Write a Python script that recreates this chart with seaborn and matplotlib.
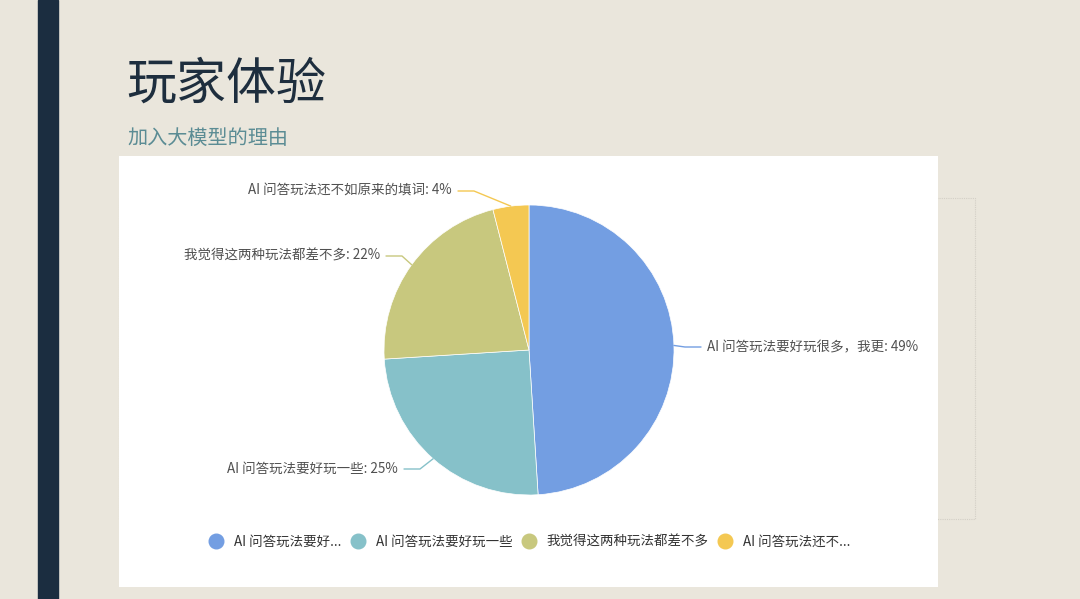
import numpy as np
import seaborn as sns
import matplotlib.pyplot as plt
from matplotlib.patches import Rectangle
from matplotlib.lines import Line2D

# Data
categories = ["AI 问答玩法要好玩很多，我更", "AI 问答玩法要好玩一些",
              "我觉得这两种玩法都差不多", "AI 问答玩法还不如原来的填词"]
shares = [49, 25, 22, 4]
legend_labels = ["AI 问答玩法要好...", "AI 问答玩法要好玩一些",
                 "我觉得这两种玩法都差不多", "AI 问答玩法还不..."]
slice_colors = ["#739EE2", "#86C1C9", "#C8C87E", "#F4C852"]

# Layout (pixel units, y down)
W, H = 1080, 599
pie_center = (529, 350)
pie_radius = 145
label_pos = [(707, 347, "left"), (398, 469, "right"),
             (380, 256, "right"), (452, 191, "right")]

sns.set_theme(style="white")
plt.rcParams["font.family"] = ["Noto Sans CJK SC", "DejaVu Sans"]
palette = sns.color_palette(slice_colors)

fig = plt.figure(figsize=(W / 100, H / 100), dpi=100)
fig.patch.set_facecolor("#EAE6DC")
ax = fig.add_axes([0, 0, 1, 1])
ax.set_facecolor("none")

# Slide decorations
ax.add_patch(Rectangle((38, 0), 20, H, color="#1B2D40", zorder=1))
ax.add_patch(Rectangle((119, 198), 856, 321, fill=False, edgecolor="#D3CFC6",
                       linestyle=(0, (1, 1)), linewidth=0.8, zorder=1))
ax.add_patch(Rectangle((119, 156), 819, 431, facecolor="white",
                       edgecolor="none", zorder=2))

ax.text(126, 85, "玩家体验", fontsize=36, color="#1E2E3E", va="center", ha="left")
ax.text(127, 138, "加入大模型的理由", fontsize=14.5, color="#5B8C94",
        va="center", ha="left")

# Pie (y axis inverted: counterclock in data = clockwise on screen)
wedges, _ = ax.pie(shares, colors=palette, startangle=-90, counterclock=True,
                   center=pie_center, radius=pie_radius,
                   wedgeprops=dict(linewidth=0.5, edgecolor="white", zorder=3))

# Labels with leader lines
cum = np.cumsum([0] + shares[:-1])
for i, (name, val) in enumerate(zip(categories, shares)):
    mid = np.deg2rad(-90 + (cum[i] + val / 2) * 3.6)
    ex = pie_center[0] + pie_radius * np.cos(mid)
    ey = pie_center[1] + pie_radius * np.sin(mid)
    tx, ty, ha = label_pos[i]
    if ha == "left":
        elbow, end = tx - 22, tx - 6
    else:
        elbow, end = tx + 22, tx + 6
    ax.plot([ex, elbow, end], [ey, ty, ty], color=slice_colors[i], lw=1,
            zorder=3, clip_on=False)
    ax.text(tx, ty, f"{name}: {val}%", ha=ha, va="center", fontsize=9.7,
            color="#505050", zorder=4)

ax.set_xlim(0, W)
ax.set_ylim(H, 0)
ax.set_aspect("auto")
ax.axis("off")

# Legend
handles = [Line2D([], [], marker="o", ls="", markersize=10.5, color=c)
           for c in slice_colors]
ax.legend(handles, legend_labels, loc="center", ncol=4, frameon=False,
          bbox_to_anchor=(530 / W, 1 - 542 / H), fontsize=9.7,
          labelcolor="#333333", handlelength=1.0, handletextpad=0.8,
          columnspacing=0.75)

fig.savefig("out.png", dpi=100, facecolor=fig.get_facecolor())
